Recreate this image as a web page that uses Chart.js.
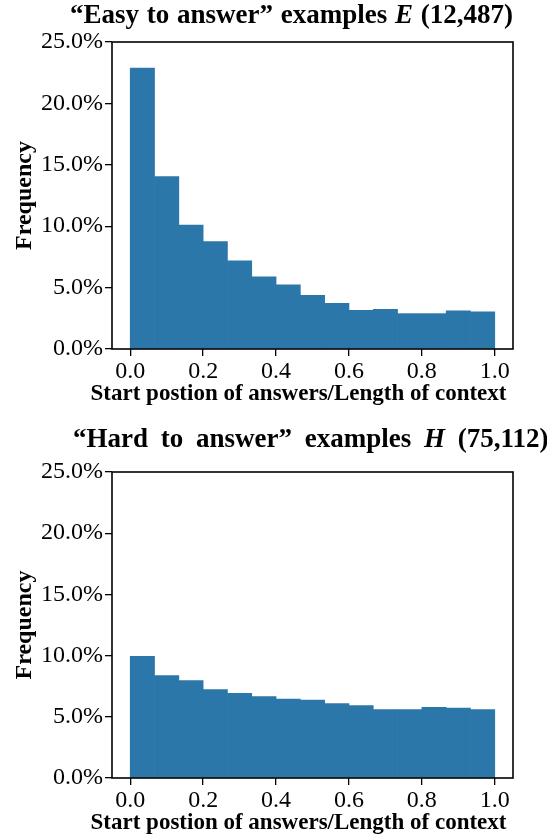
<!DOCTYPE html>
<html><head><meta charset="utf-8">
<script src="https://cdn.jsdelivr.net/npm/chart.js@4.4.0/dist/chart.umd.min.js"></script>
<style>
html,body{margin:0;padding:0;background:#fff;width:547px;height:839px;overflow:hidden}
#wrap{position:relative;width:547px;height:839px}
.cv{position:absolute;left:0}
.ttl{position:absolute;font-family:'Liberation Serif','Times New Roman',serif;font-weight:bold;font-size:27px;line-height:27px;white-space:nowrap;color:#000}
</style></head><body>
<div id="wrap">
<canvas id="c1" class="cv" width="547" height="410" style="top:0px"></canvas>
<canvas id="c2" class="cv" width="547" height="424" style="top:415px"></canvas>
<div class="ttl" id="t1" style="left:70px;top:1px;word-spacing:1px">“Easy to answer” examples <i>E</i> (12,487)</div>
<div class="ttl" id="t2" style="left:73px;top:425px;word-spacing:6px">“Hard to answer” examples <i>H</i> (75,112)</div>
</div>
<script>
// bin edges (15 equal bins over [0,1])
const binEdges = [0, 1/15, 2/15, 3/15, 4/15, 5/15, 6/15, 7/15, 8/15, 9/15, 10/15, 11/15, 12/15, 13/15, 14/15, 1];
// frequency (%) per bin
const easyFreq = [22.88, 14.04, 10.10, 8.75, 7.17, 5.87, 5.22, 4.37, 3.72, 3.15, 3.23, 2.88, 2.88, 3.10, 3.02];
const hardFreq = [9.94, 8.36, 7.96, 7.22, 6.92, 6.65, 6.45, 6.37, 6.08, 5.91, 5.59, 5.59, 5.78, 5.72, 5.59];
const xTickValues = [0.0, 0.2, 0.4, 0.6, 0.8, 1.0];
const yTickValues = [0, 5, 10, 15, 20, 25];
const xTitle = 'Start postion of answers/Length of context';
const yTitle = 'Frequency';

Chart.defaults.font.family = "'Liberation Serif','Times New Roman',serif";
Chart.defaults.color = '#000';

const boxPlugin = {
  id: 'box',
  afterDraw(chart) {
    const {ctx, chartArea: a} = chart;
    ctx.save();
    ctx.strokeStyle = '#000';
    ctx.lineWidth = 1.6;
    ctx.strokeRect(a.left, a.top, a.right - a.left, a.bottom - a.top);
    // x-axis title (wider than the axis, so drawn without width limit)
    ctx.fillStyle = '#000';
    ctx.font = "bold 23px 'Liberation Serif','Times New Roman',serif";
    ctx.textAlign = 'center';
    ctx.textBaseline = 'alphabetic';
    ctx.fillText(xTitle, 298.5, a.bottom + 51);
    ctx.restore();
  }
};

function build(id, values, padTop, xScaleH) {
  const pts = values.map((v, i) => ({x: (binEdges[i] + binEdges[i + 1]) / 2, y: v}));
  return new Chart(document.getElementById(id), {
    type: 'bar',
    data: {datasets: [{data: pts, backgroundColor: '#2c77a9', borderWidth: 0,
      barPercentage: 1.0, categoryPercentage: 1.0}]},
    options: {
      responsive: false, animation: false, devicePixelRatio: 1,
      layout: {padding: {top: padTop, right: 34, left: 0, bottom: 0}},
      plugins: {legend: {display: false}, tooltip: {enabled: false}, title: {display: false}},
      scales: {
        x: {
          type: 'linear', min: -0.05, max: 1.05, offset: false,
          afterBuildTicks(s) { s.ticks = xTickValues.map(v => ({value: v})); },
          afterFit(s) { s.height = xScaleH; },
          ticks: {callback: v => Number(v).toFixed(1), font: {size: 24}, padding: 1, maxRotation: 0, autoSkip: false},
          grid: {display: true, offset: false, drawOnChartArea: false, drawTicks: true, tickLength: 7, color: '#000', lineWidth: 1.3},
          border: {display: false},
          title: {display: false, text: xTitle}
        },
        y: {
          min: 0, max: 25,
          afterBuildTicks(s) { s.ticks = yTickValues.map(v => ({value: v})); },
          afterFit(s) { s.width = 112; },
          ticks: {callback: v => Number(v).toFixed(1) + '%', font: {size: 24}, padding: 2},
          grid: {display: true, drawOnChartArea: false, drawTicks: true, tickLength: 7, color: '#000', lineWidth: 1.3},
          border: {display: false},
          title: {display: true, text: yTitle, font: {size: 24, weight: 'bold'}, padding: {top: 10, bottom: 10}}
        }
      }
    },
    plugins: [boxPlugin]
  });
}

build('c1', easyFreq, 42, 61);
build('c2', hardFreq, 57, 61);
</script>
</body></html>
